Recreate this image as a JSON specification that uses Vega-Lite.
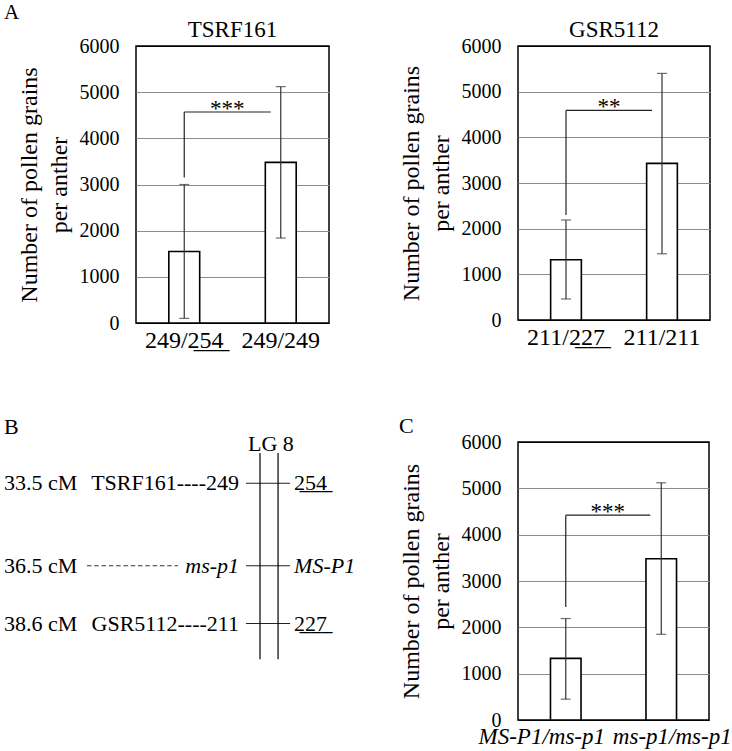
{
  "$schema": "https://vega.github.io/schema/vega-lite/v6.json",
  "padding": {"left": 3, "top": 2, "right": 0, "bottom": 0},
  "title": {"text": "A", "anchor": "start", "fontSize": 21, "offset": -5, "frame": "bounds"},
  "config": {
    "font": "Liberation Serif",
    "view": {"stroke": "black", "strokeWidth": 1.5},
    "title": {"font": "Liberation Serif", "fontWeight": "normal", "color": "black"},
    "axis": {"labelFont": "Liberation Serif", "titleFont": "Liberation Serif", "labelColor": "black", "titleColor": "black", "titleFontWeight": "normal"},
    "axisY": {"grid": true, "gridColor": {"condition": {"test": "datum.value == 0 || datum.value == 6000", "value": "black"}, "value": "#8c8c8c"}, "gridWidth": 1, "domain": false, "ticks": false, "tickSize": 0, "labelFontSize": 20, "labelPadding": 17, "titleFontSize": 24, "titleLineHeight": 30, "titlePadding": 8, "format": "d", "values": [0, 1000, 2000, 3000, 4000, 5000, 6000]},
    "axisX": {"domain": false, "ticks": false, "tickSize": 0, "labelAngle": 0, "labelFontSize": 24, "labelPadding": 5, "grid": false}
  },
  "columns": 2,
  "align": "each",
  "spacing": {"row": 61, "column": 39},
  "concat": [
    {
      "width": 193, "height": 277,
      "title": {"text": "TSRF161", "fontSize": 23, "offset": -6},
      "data": {"values": [
        {"genotype": "249/2\u03325\u03324\u0332", "mean": 1550, "lo": 100, "hi": 3000},
        {"genotype": "249/249", "mean": 3480, "lo": 1840, "hi": 5120}
      ]},
      "layer": [
        {"mark": {"type": "bar", "fill": "white", "stroke": "black", "strokeWidth": 1.6},
         "encoding": {
           "x": {"field": "genotype", "type": "nominal", "sort": null, "scale": {"domain": ["249/2\u03325\u03324\u0332", "249/249"], "paddingInner": 0.68, "paddingOuter": 0.34}, "axis": {"title": null}},
           "y": {"field": "mean", "type": "quantitative", "scale": {"domain": [0, 6000], "nice": false}, "axis": {"title": ["Number of pollen grains", "per anther"]}}}},
        {"mark": {"type": "rule", "color": "#333", "strokeWidth": 1.2},
         "encoding": {"x": {"field": "genotype", "type": "nominal"}, "y": {"field": "lo", "type": "quantitative"}, "y2": {"field": "hi"}}},
        {"mark": {"type": "tick", "orient": "horizontal", "size": 10, "thickness": 1.2, "color": "#333"},
         "encoding": {"x": {"field": "genotype", "type": "nominal"}, "y": {"field": "lo", "type": "quantitative"}}},
        {"mark": {"type": "tick", "orient": "horizontal", "size": 10, "thickness": 1.2, "color": "#333"},
         "encoding": {"x": {"field": "genotype", "type": "nominal"}, "y": {"field": "hi", "type": "quantitative"}}},
        {"data": {"values": [{"from": "249/2\u03325\u03324\u0332", "to": "249/249", "y": 4570, "low": 3150, "stars": "***"}]},
         "layer": [
           {"mark": {"type": "rule", "color": "#222", "strokeWidth": 1.2, "x2Offset": -10},
            "encoding": {"x": {"field": "from", "type": "nominal"}, "x2": {"field": "to"}, "y": {"field": "y", "type": "quantitative"}}},
           {"mark": {"type": "rule", "color": "#222", "strokeWidth": 1.2},
            "encoding": {"x": {"field": "from", "type": "nominal"}, "y": {"field": "y", "type": "quantitative"}, "y2": {"field": "low"}}},
           {"mark": {"type": "text", "fontSize": 23, "dx": 43, "dy": 4, "baseline": "alphabetic", "align": "center"},
            "encoding": {"x": {"field": "from", "type": "nominal"}, "y": {"field": "y", "type": "quantitative"}, "text": {"field": "stars"}}}
         ]}
      ]
    },
    {
      "width": 192, "height": 274,
      "title": {"text": "GSR5112", "fontSize": 23, "offset": -6},
      "data": {"values": [
        {"genotype": "211/2\u03322\u03327\u0332", "mean": 1320, "lo": 460, "hi": 2190},
        {"genotype": "211/211", "mean": 3430, "lo": 1450, "hi": 5400}
      ]},
      "layer": [
        {"mark": {"type": "bar", "fill": "white", "stroke": "black", "strokeWidth": 1.6},
         "encoding": {
           "x": {"field": "genotype", "type": "nominal", "sort": null, "scale": {"domain": ["211/2\u03322\u03327\u0332", "211/211"], "paddingInner": 0.68, "paddingOuter": 0.34}, "axis": {"title": null}},
           "y": {"field": "mean", "type": "quantitative", "scale": {"domain": [0, 6000], "nice": false}, "axis": {"title": ["Number of pollen grains", "per anther"]}}}},
        {"mark": {"type": "rule", "color": "#333", "strokeWidth": 1.2},
         "encoding": {"x": {"field": "genotype", "type": "nominal"}, "y": {"field": "lo", "type": "quantitative"}, "y2": {"field": "hi"}}},
        {"mark": {"type": "tick", "orient": "horizontal", "size": 10, "thickness": 1.2, "color": "#333"},
         "encoding": {"x": {"field": "genotype", "type": "nominal"}, "y": {"field": "lo", "type": "quantitative"}}},
        {"mark": {"type": "tick", "orient": "horizontal", "size": 10, "thickness": 1.2, "color": "#333"},
         "encoding": {"x": {"field": "genotype", "type": "nominal"}, "y": {"field": "hi", "type": "quantitative"}}},
        {"data": {"values": [{"from": "211/2\u03322\u03327\u0332", "to": "211/211", "y": 4590, "low": 2300, "stars": "**"}]},
         "layer": [
           {"mark": {"type": "rule", "color": "#222", "strokeWidth": 1.2, "x2Offset": -10},
            "encoding": {"x": {"field": "from", "type": "nominal"}, "x2": {"field": "to"}, "y": {"field": "y", "type": "quantitative"}}},
           {"mark": {"type": "rule", "color": "#222", "strokeWidth": 1.2},
            "encoding": {"x": {"field": "from", "type": "nominal"}, "y": {"field": "y", "type": "quantitative"}, "y2": {"field": "low"}}},
           {"mark": {"type": "text", "fontSize": 23, "dx": 43, "dy": 4, "baseline": "alphabetic", "align": "center"},
            "encoding": {"x": {"field": "from", "type": "nominal"}, "y": {"field": "y", "type": "quantitative"}, "text": {"field": "stars"}}}
         ]}
      ]
    },
    {
      "width": 223, "height": 220,
      "view": {"stroke": null},
      "title": {"text": "B", "anchor": "start", "fontSize": 22, "offset": -6, "frame": "bounds"},
      "data": {"values": [
        {"cM": 33.5, "cMLabel": "33.5 cM", "left": "TSRF161----249", "right": "2\u03325\u03324\u0332", "italic": false},
        {"cM": 36.5, "cMLabel": "36.5 cM", "left": "ms-p1", "right": "MS-P1", "italic": true},
        {"cM": 38.6, "cMLabel": "38.6 cM", "left": "GSR5112----211", "right": "2\u03322\u03327\u0332", "italic": false}
      ]},
      "encoding": {
        "y": {"field": "cM", "type": "quantitative", "scale": {"domain": [32, 40], "reverse": true, "nice": false, "zero": false}, "axis": null}
      },
      "layer": [
        {"mark": {"type": "text", "align": "left", "baseline": "middle", "fontSize": 22},
         "encoding": {"x": {"datum": -59.2, "type": "quantitative", "scale": {"domain": [0, 100], "nice": false, "zero": false}, "axis": null}, "text": {"field": "cMLabel"}}},
        {"transform": [{"filter": "!datum.italic"}],
         "mark": {"type": "text", "align": "right", "baseline": "middle", "fontSize": 22},
         "encoding": {"x": {"datum": 46.2, "type": "quantitative"}, "text": {"field": "left"}}},
        {"transform": [{"filter": "datum.italic"}],
         "mark": {"type": "text", "align": "right", "baseline": "middle", "fontSize": 22, "fontStyle": "italic"},
         "encoding": {"x": {"datum": 46.2, "type": "quantitative"}, "text": {"field": "left"}}},
        {"transform": [{"filter": "datum.italic"}],
         "mark": {"type": "rule", "color": "#333", "strokeWidth": 1, "strokeDash": [4.5, 2.8]},
         "encoding": {"x": {"datum": -22, "type": "quantitative"}, "x2": {"datum": 18.8}}},
        {"mark": {"type": "rule", "color": "#222", "strokeWidth": 1.2},
         "encoding": {"x": {"datum": 49.3, "type": "quantitative"}, "x2": {"datum": 69.1}}},
        {"transform": [{"filter": "!datum.italic"}],
         "mark": {"type": "text", "align": "left", "baseline": "middle", "fontSize": 22},
         "encoding": {"x": {"datum": 70.9, "type": "quantitative"}, "text": {"field": "right"}}},
        {"transform": [{"filter": "datum.italic"}],
         "mark": {"type": "text", "align": "left", "baseline": "middle", "fontSize": 22, "fontStyle": "italic"},
         "encoding": {"x": {"datum": 70.9, "type": "quantitative"}, "text": {"field": "right"}}},
        {"data": {"values": [{"group": "LG 8", "top": 32.4, "bottom": 39.9}]},
         "layer": [
           {"mark": {"type": "rule", "color": "black", "strokeWidth": 1.2},
            "encoding": {"x": {"datum": 55.6, "type": "quantitative"}, "y": {"field": "top", "type": "quantitative"}, "y2": {"field": "bottom"}}},
           {"mark": {"type": "rule", "color": "black", "strokeWidth": 1.2},
            "encoding": {"x": {"datum": 63.7, "type": "quantitative"}, "y": {"field": "top", "type": "quantitative"}, "y2": {"field": "bottom"}}},
           {"mark": {"type": "text", "align": "center", "baseline": "alphabetic", "fontSize": 22, "dy": -2},
            "encoding": {"x": {"datum": 60.5, "type": "quantitative"}, "y": {"field": "top", "type": "quantitative"}, "text": {"field": "group"}}}
         ]}
      ]
    },
    {
      "width": 191, "height": 278,
      "title": {"text": "C", "anchor": "start", "fontSize": 22, "offset": -6, "frame": "bounds"},
      "data": {"values": [
        {"genotype": "MS-P1/ms-p1", "mean": 1330, "lo": 450, "hi": 2190},
        {"genotype": "ms-p1/ms-p1", "mean": 3480, "lo": 1850, "hi": 5120}
      ]},
      "layer": [
        {"mark": {"type": "bar", "fill": "white", "stroke": "black", "strokeWidth": 1.6},
         "encoding": {
           "x": {"field": "genotype", "type": "nominal", "sort": null, "scale": {"domain": ["MS-P1/ms-p1", "ms-p1/ms-p1"], "paddingInner": 0.68, "paddingOuter": 0.34}, "axis": {"title": null, "labelFontStyle": "italic", "labelFontSize": 23, "labelOffset": {"condition": {"test": "datum.value === 'MS-P1/ms-p1'", "value": -24}, "value": 11}}},
           "y": {"field": "mean", "type": "quantitative", "scale": {"domain": [0, 6000], "nice": false}, "axis": {"title": ["Number of pollen grains", "per anther"]}}}},
        {"mark": {"type": "rule", "color": "#333", "strokeWidth": 1.2},
         "encoding": {"x": {"field": "genotype", "type": "nominal"}, "y": {"field": "lo", "type": "quantitative"}, "y2": {"field": "hi"}}},
        {"mark": {"type": "tick", "orient": "horizontal", "size": 10, "thickness": 1.2, "color": "#333"},
         "encoding": {"x": {"field": "genotype", "type": "nominal"}, "y": {"field": "lo", "type": "quantitative"}}},
        {"mark": {"type": "tick", "orient": "horizontal", "size": 10, "thickness": 1.2, "color": "#333"},
         "encoding": {"x": {"field": "genotype", "type": "nominal"}, "y": {"field": "hi", "type": "quantitative"}}},
        {"data": {"values": [{"from": "MS-P1/ms-p1", "to": "ms-p1/ms-p1", "y": 4420, "low": 2440, "stars": "***"}]},
         "layer": [
           {"mark": {"type": "rule", "color": "#222", "strokeWidth": 1.2, "x2Offset": -11},
            "encoding": {"x": {"field": "from", "type": "nominal"}, "x2": {"field": "to"}, "y": {"field": "y", "type": "quantitative"}}},
           {"mark": {"type": "rule", "color": "#222", "strokeWidth": 1.2},
            "encoding": {"x": {"field": "from", "type": "nominal"}, "y": {"field": "y", "type": "quantitative"}, "y2": {"field": "low"}}},
           {"mark": {"type": "text", "fontSize": 23, "dx": 42, "dy": 4, "baseline": "alphabetic", "align": "center"},
            "encoding": {"x": {"field": "from", "type": "nominal"}, "y": {"field": "y", "type": "quantitative"}, "text": {"field": "stars"}}}
         ]}
      ]
    }
  ]
}
